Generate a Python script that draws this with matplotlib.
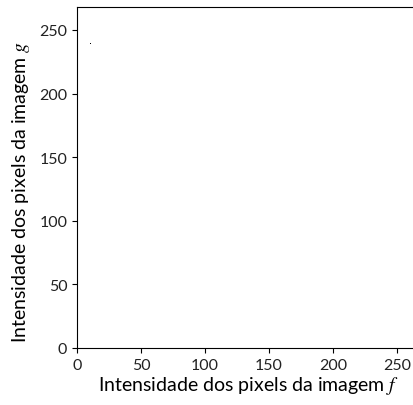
import matplotlib
matplotlib.use("Agg")
import matplotlib.pyplot as plt

# single pixel pair found in the joint histogram
pix_f = [10]
pix_g = [239]

xticks = [0, 50, 100, 150, 200, 250]
yticks = [0, 50, 100, 150, 200, 250]

plt.rcParams['font.family'] = ['Lato', 'DejaVu Sans']
plt.rcParams['mathtext.fontset'] = 'stix'

fig = plt.figure(figsize=(4.14, 4.06), dpi=100)
ax = fig.add_axes([77/414, 57/406, 343/414, 341/406])

ax.plot(pix_f, pix_g, ',', color='black')

ax.set_xlim(0, 268)
ax.set_ylim(0, 268)
ax.set_xticks(xticks)
ax.set_yticks(yticks)
ax.tick_params(labelsize=11.5, labelcolor='#222222')

ax.set_xlabel("Intensidade dos pixels da imagem $f$", fontsize=14, labelpad=2)
ax.set_ylabel("Intensidade dos pixels da imagem $g$", fontsize=14)
ax.yaxis.set_label_coords(-0.13, 0.46)

fig.savefig('out.png', dpi=100)
